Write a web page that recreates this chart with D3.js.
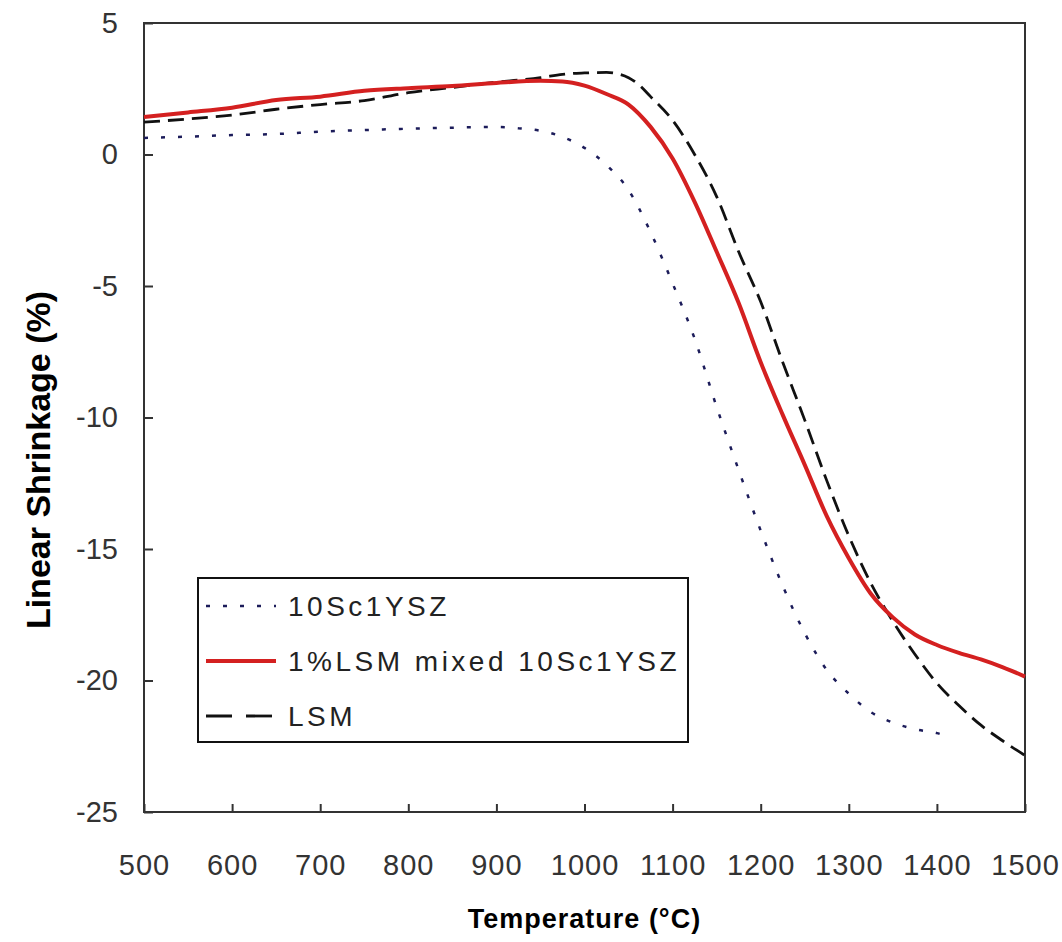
<!DOCTYPE html>
<html lang="en">
<head>
    <meta charset="UTF-8">
    <title>Linear Shrinkage</title>
    <script src="https://d3js.org/d3.v7.min.js"></script>
</head>
<style>
    body{
        margin: 0;
        background-color: white;
    }
    text{
        font-family: "Liberation Sans", Arial, sans-serif;
    }
</style>
<body>
    <script>
    // temperatures (°C) and shrinkage values (%)
    const tempsYSZ = [500, 550, 600, 650, 700, 750, 800, 850, 900, 925, 950, 975, 1000, 1025, 1050, 1075, 1100, 1125, 1150, 1175, 1200, 1225, 1250, 1275, 1300, 1325, 1350, 1375, 1400, 1410];
    const shrinkYSZ = [0.63, 0.68, 0.74, 0.78, 0.87, 0.93, 0.98, 1.02, 1.05, 1.0, 0.9, 0.67, 0.25, -0.4, -1.35, -2.95, -4.9, -7.0, -9.6, -12.0, -14.3, -16.4, -18.2, -19.6, -20.5, -21.2, -21.6, -21.85, -22.0, -22.1];

    const tempsMixed = [500, 550, 600, 650, 700, 750, 800, 850, 900, 950, 975, 1000, 1025, 1050, 1075, 1100, 1125, 1150, 1175, 1200, 1225, 1250, 1275, 1300, 1325, 1350, 1375, 1400, 1425, 1450, 1475, 1500];
    const shrinkMixed = [1.43, 1.6, 1.78, 2.07, 2.2, 2.42, 2.52, 2.6, 2.72, 2.8, 2.78, 2.62, 2.3, 1.9, 1.05, -0.15, -1.8, -3.7, -5.65, -7.9, -9.9, -11.8, -13.75, -15.35, -16.7, -17.6, -18.25, -18.65, -18.95, -19.2, -19.5, -19.85];

    const tempsLSM = [500, 550, 600, 650, 700, 750, 800, 850, 900, 950, 975, 1000, 1025, 1040, 1050, 1060, 1075, 1100, 1125, 1150, 1175, 1200, 1225, 1250, 1275, 1300, 1325, 1350, 1375, 1400, 1425, 1450, 1475, 1500];
    const shrinkLSM = [1.23, 1.35, 1.5, 1.72, 1.9, 2.05, 2.35, 2.55, 2.75, 2.92, 3.05, 3.1, 3.12, 3.05, 2.92, 2.7, 2.2, 1.3, 0.0, -1.6, -3.7, -5.6, -7.9, -10.1, -12.4, -14.5, -16.3, -17.75, -19.0, -20.1, -20.95, -21.7, -22.3, -22.85];

    const seriesNames = ['10Sc1YSZ', '1%LSM mixed 10Sc1YSZ', 'LSM'];
    const xTicks = [500, 600, 700, 800, 900, 1000, 1100, 1200, 1300, 1400, 1500];
    const yTicks = [5, 0, -5, -10, -15, -20, -25];

    const width = 1062;
    const height = 942;
    const margin = { top: 23, right: 37, bottom: 130, left: 144 };
    const chartWidth = width - margin.left - margin.right;
    const chartHeight = height - margin.top - margin.bottom;

    const svg = d3.select('body')
        .append('svg')
        .attr('width', width)
        .attr('height', height);

    const chart = svg.append('g')
        .attr('transform', `translate(${margin.left}, ${margin.top})`);

    const xScale = d3.scaleLinear()
        .range([0, chartWidth])
        .domain([500, 1500]);

    const yScale = d3.scaleLinear()
        .range([chartHeight, 0])
        .domain([-25, 5]);

    // ticks point inward, labels use a plain hyphen
    const xAxis = chart.append('g')
        .attr('transform', `translate(0, ${chartHeight})`)
        .call(d3.axisBottom(xScale).tickValues(xTicks).tickFormat(d => String(d))
            .tickSizeInner(-8).tickSizeOuter(0).tickPadding(42));
    const yAxis = chart.append('g')
        .call(d3.axisLeft(yScale).tickValues(yTicks).tickFormat(d => String(d))
            .tickSizeInner(-9).tickSizeOuter(0).tickPadding(35));

    [xAxis, yAxis].forEach(ax => {
        ax.select('.domain').remove();
        ax.selectAll('line').attr('stroke', '#333').attr('stroke-width', 2);
        ax.selectAll('text')
            .attr('font-size', 29)
            .attr('fill', '#333')
            .attr('font-family', '"Liberation Sans", Arial, sans-serif');
    });
    yAxis.selectAll('text').attr('dx', 9);
    xAxis.selectAll('text').attr('letter-spacing', 1);

    // frame
    chart.append('rect')
        .attr('width', chartWidth)
        .attr('height', chartHeight)
        .attr('fill', 'none')
        .attr('stroke', '#333')
        .attr('stroke-width', 2);

    const line = d3.line()
        .x(d => xScale(d[0]))
        .y(d => yScale(d[1]))
        .curve(d3.curveMonotoneX);

    const styles = [
        { stroke: '#1c1c5a', width: 2.5, dash: '4,13' },
        { stroke: '#d42020', width: 4, dash: null },
        { stroke: '#111', width: 2.8, dash: '16,8' }
    ];

    const seriesData = [
        d3.zip(tempsYSZ, shrinkYSZ),
        d3.zip(tempsMixed, shrinkMixed),
        d3.zip(tempsLSM, shrinkLSM)
    ];

    [0, 2, 1].forEach(i => {
        chart.append('path')
            .datum(seriesData[i])
            .attr('fill', 'none')
            .attr('stroke', styles[i].stroke)
            .attr('stroke-width', styles[i].width)
            .attr('stroke-dasharray', styles[i].dash)
            .attr('d', line);
    });

    // legend
    const legend = svg.append('g').attr('transform', 'translate(198, 578)');
    legend.append('rect')
        .attr('width', 490)
        .attr('height', 164)
        .attr('fill', 'white')
        .attr('stroke', '#111')
        .attr('stroke-width', 2);

    seriesNames.forEach((name, i) => {
        const y = 28 + i * 55;
        legend.append('line')
            .attr('x1', 8).attr('x2', 78)
            .attr('y1', y).attr('y2', y)
            .attr('stroke', styles[i].stroke)
            .attr('stroke-width', styles[i].width)
            .attr('stroke-dasharray', i === 2 ? '26,14' : styles[i].dash);
        legend.append('text')
            .attr('x', 90)
            .attr('y', y)
            .attr('dy', '0.36em')
            .attr('font-size', 28)
            .attr('letter-spacing', 3.5)
            .attr('fill', '#222')
            .text(name);
    });

    // X-axis title
    svg.append('text')
        .attr('text-anchor', 'middle')
        .attr('x', margin.left + chartWidth / 2)
        .attr('y', 928)
        .attr('font-size', 27)
        .attr('font-weight', 'bold')
        .attr('letter-spacing', 1)
        .text('Temperature (°C)');

    // Y-axis title
    svg.append('text')
        .attr('text-anchor', 'middle')
        .attr('transform', 'translate(50, 460) rotate(-90)')
        .attr('font-size', 34)
        .attr('font-weight', 'bold')
        .text('Linear Shrinkage (%)');
    </script>
</body>
</html>
